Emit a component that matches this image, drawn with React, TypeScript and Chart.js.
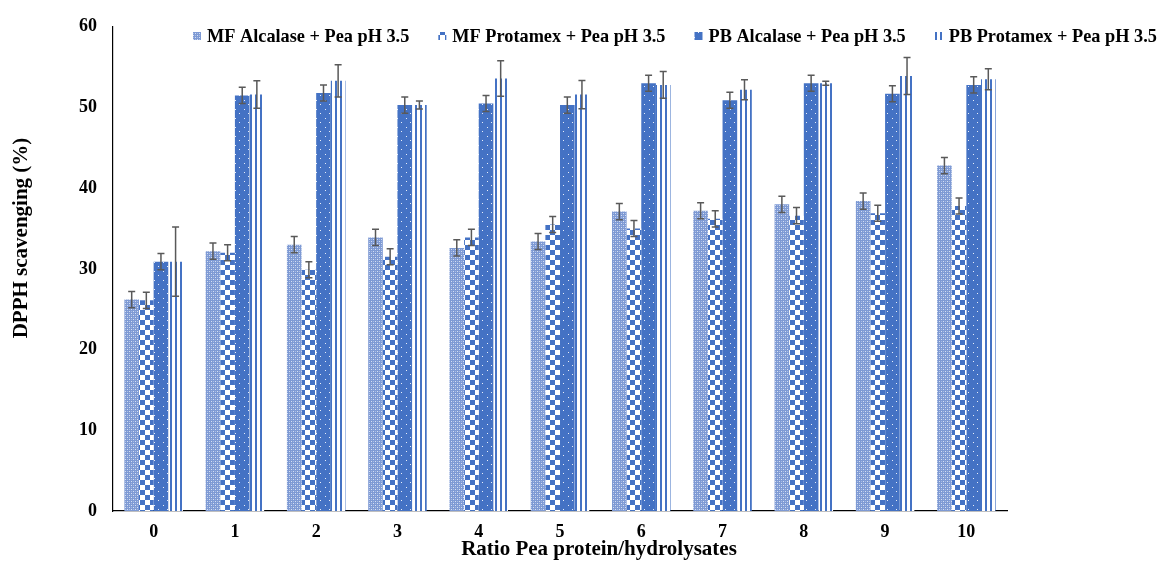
import React, { useEffect, useRef } from "react";
import { Chart, registerables } from "chart.js";

Chart.register(...registerables);

const categories = ["0", "1", "2", "3", "4", "5", "6", "7", "8", "9", "10"];
const seriesNames = [
  "MF Alcalase + Pea pH 3.5",
  "MF Protamex + Pea pH 3.5",
  "PB Alcalase + Pea pH 3.5",
  "PB Protamex + Pea pH 3.5",
];
const mfAlcalase = [26.2, 32.2, 33.0, 33.9, 32.6, 33.4, 37.1, 37.2, 38.0, 38.4, 42.8];
const mfAlcalaseErr = [1.0, 1.0, 1.0, 1.0, 1.0, 1.0, 1.0, 1.0, 1.0, 1.0, 1.0];
const mfProtamex = [26.1, 32.0, 29.9, 31.5, 33.9, 35.5, 35.0, 36.2, 36.6, 36.9, 37.8];
const mfProtamexErr = [1.0, 1.0, 1.0, 1.0, 1.0, 1.0, 1.0, 1.0, 1.0, 1.0, 1.0];
const pbAlcalase = [30.9, 51.5, 51.8, 50.3, 50.5, 50.3, 53.0, 50.9, 53.0, 51.7, 52.8];
const pbAlcalaseErr = [1.0, 1.0, 1.0, 1.0, 1.0, 1.0, 1.0, 1.0, 1.0, 1.0, 1.0];
const pbProtamex = [30.9, 51.6, 53.3, 50.3, 53.6, 51.6, 52.8, 52.2, 53.0, 53.9, 53.5];
const pbProtamexErr = [4.3, 1.7, 2.0, 0.5, 2.2, 1.75, 1.65, 1.25, 0.25, 2.3, 1.3];
const yMin = 0;
const yMax = 60;
const yStep = 10;

const xTitle = "Ratio Pea protein/hydrolysates";
const yTitle = "DPPH scavenging (%)";

const BLUE = "#4472C4";
const FONT = "'Liberation Serif', 'Times New Roman', serif";

function makeTile(w: number, h: number, draw: (c: CanvasRenderingContext2D) => void): CanvasPattern {
  const t = document.createElement("canvas");
  t.width = w;
  t.height = h;
  const c = t.getContext("2d")!;
  draw(c);
  const main = document.createElement("canvas").getContext("2d")!;
  return main.createPattern(t, "repeat")!;
}

function makePatterns(): CanvasPattern[] {
  const p1 = makeTile(4, 4, (c) => {
    c.fillStyle = "#d6e0f3";
    c.fillRect(0, 0, 4, 4);
    c.fillStyle = "#7e9ad4";
    c.fillRect(0, 0, 4, 1);
    c.fillRect(0, 2, 4, 1);
    c.fillRect(0, 0, 1, 4);
    c.fillRect(2, 0, 1, 4);
    c.fillStyle = "#a7bbe4";
    c.fillRect(1, 1, 1, 1);
    c.fillRect(3, 3, 1, 1);
  });
  const p2 = makeTile(10, 10, (c) => {
    c.fillStyle = "#ffffff";
    c.fillRect(0, 0, 10, 10);
    c.fillStyle = BLUE;
    c.fillRect(0, 0, 5, 5);
    c.fillRect(5, 5, 5, 5);
  });
  const p3 = makeTile(9, 9, (c) => {
    c.fillStyle = BLUE;
    c.fillRect(0, 0, 9, 9);
    c.fillStyle = "#e8eef9";
    c.fillRect(1, 1, 1, 1);
    c.fillRect(5, 5, 1, 1);
  });
  const p4 = makeTile(5, 5, (c) => {
    c.fillStyle = "#ffffff";
    c.fillRect(0, 0, 5, 5);
    c.fillStyle = BLUE;
    c.fillRect(0, 0, 2, 5);
  });
  return [p1, p2, p3, p4];
}

export default function App() {
  const ref = useRef<HTMLCanvasElement>(null);

  useEffect(() => {
    const canvas = ref.current!;
    const pats = makePatterns();
    const values = [mfAlcalase, mfProtamex, pbAlcalase, pbProtamex];
    const errors = [mfAlcalaseErr, mfProtamexErr, pbAlcalaseErr, pbProtamexErr];

    const errorBars = {
      id: "errorBars",
      afterDatasetsDraw(chart: any) {
        const ctx = chart.ctx;
        const y = chart.scales.y;
        ctx.save();
        ctx.strokeStyle = "#595959";
        ctx.lineWidth = 1.5;
        values.forEach((vals, i) => {
          const meta = chart.getDatasetMeta(i);
          meta.data.forEach((el: any, j: number) => {
            const v = vals[j];
            const e = errors[i][j];
            const yt = y.getPixelForValue(v + e);
            const yb = y.getPixelForValue(v - e);
            const x = el.x;
            ctx.beginPath();
            ctx.moveTo(x, yt);
            ctx.lineTo(x, yb);
            ctx.moveTo(x - 3.5, yt);
            ctx.lineTo(x + 3.5, yt);
            ctx.moveTo(x - 3.5, yb);
            ctx.lineTo(x + 3.5, yb);
            ctx.stroke();
          });
        });
        ctx.restore();
      },
    };

    const decorations = {
      id: "decorations",
      afterDraw(chart: any) {
        const ctx = chart.ctx;
        const area = chart.chartArea;
        ctx.save();
        ctx.fillStyle = "#000";
        // Legend
        ctx.font = `bold 18.3px ${FONT}`;
        ctx.textAlign = "left";
        ctx.textBaseline = "alphabetic";
        let x = 193;
        const ly = 36;
        seriesNames.forEach((name, i) => {
          ctx.fillStyle = pats[i];
          ctx.fillRect(x, ly - 4, 8, 8);
          ctx.fillStyle = "#000";
          ctx.fillText(name, x + 14, ly + 6);
          x += 14 + ctx.measureText(name).width + 29;
        });
        // X title
        ctx.font = `bold 21px ${FONT}`;
        ctx.textAlign = "center";
        ctx.textBaseline = "middle";
        ctx.fillText(xTitle, area.left + (area.right - area.left) / 2 + 39, 550);
        // Y title
        ctx.translate(22, 238);
        ctx.rotate(-Math.PI / 2);
        ctx.fillText(yTitle, 0, 0);
        ctx.restore();
      },
    };

    const chart = new Chart(canvas, {
      type: "bar",
      data: {
        labels: categories,
        datasets: values.map((vals, i) => ({
          label: seriesNames[i],
          data: vals,
          backgroundColor: pats[i],
          borderWidth: 0,
          categoryPercentage: 0.72,
          barPercentage: 1.0,
        })),
      },
      options: {
        responsive: false,
        animation: false,
        devicePixelRatio: 1,
        layout: { padding: { left: 0, right: 152, top: 26, bottom: 0 } },
        plugins: {
          legend: { display: false },
          tooltip: { enabled: false },
          title: { display: false },
        },
        scales: {
          x: {
            grid: { display: false, drawTicks: false },
            border: { display: true, color: "#000", width: 1.2 },
            ticks: {
              color: "#000",
              font: { family: FONT, size: 18, weight: "bold" },
              padding: 11,
              maxRotation: 0,
            },
            afterFit: (s: any) => {
              s.height = 52;
            },
          },
          y: {
            min: yMin,
            max: yMax,
            grid: { display: false, drawTicks: false },
            border: { display: true, color: "#000", width: 1.2 },
            ticks: {
              stepSize: yStep,
              color: "#000",
              font: { family: FONT, size: 18, weight: "bold" },
              padding: 16,
            },
            afterFit: (s: any) => {
              s.width = 113;
            },
          },
        },
      },
      plugins: [errorBars, decorations],
    } as any);

    return () => chart.destroy();
  }, []);

  return (
    <div style={{ position: "fixed", left: 0, top: 0, width: 1159, height: 563, background: "#fff" }}>
      <canvas ref={ref} width={1159} height={563} style={{ display: "block" }} />
    </div>
  );
}
